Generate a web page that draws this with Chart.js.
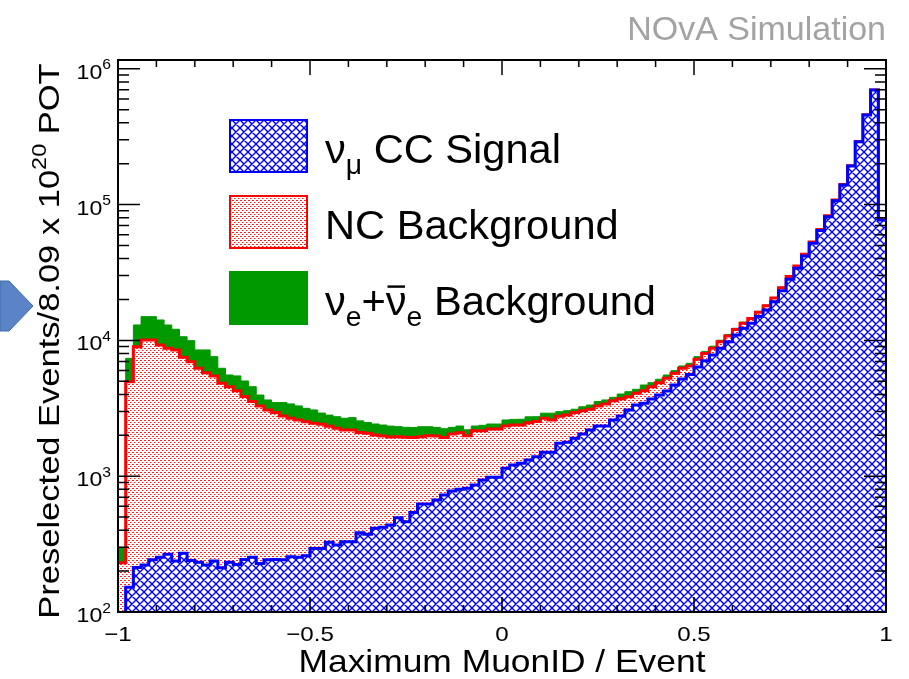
<!DOCTYPE html>
<html>
<head>
<meta charset="utf-8">
<title>Maximum MuonID / Event</title>
<script src="https://cdn.jsdelivr.net/npm/chart.js@4.4.1/dist/chart.umd.min.js"></script>
<style>
  html, body { margin: 0; padding: 0; background: #fff; }
  #wrap { width: 909px; height: 679px; }
</style>
</head>
<body>
<div id="wrap"><canvas id="muonIdChart" width="909" height="679"></canvas></div>
<script>
// 100 bins of width 0.02 between -1 and 1
const histLow = -1;
const binWidth = 0.02;

// numu CC signal per bin
const numuCC = [
  95, 152, 213, 222, 242, 253, 266, 237, 271, 239,
  232, 222, 237, 212, 232, 224, 244, 253, 228, 242,
  244, 242, 255, 253, 260, 294, 294, 326, 311, 329,
  329, 384, 373, 413, 420, 437, 495, 462, 540, 624,
  624, 668, 727, 778, 801, 815, 861, 938, 982, 982,
  1143, 1209, 1245, 1316, 1393, 1500, 1500, 1746, 1777, 1902,
  2046, 2190, 2343, 2343, 2595, 2776, 3072, 3343, 3441, 3701,
  3961, 4240, 4695, 5200, 5600, 6380, 7090, 7810, 8750, 9780,
  10960, 12270, 13360, 14960, 16760, 19290, 23200, 28200, 33960, 41800,
  51800, 64300, 81500, 106900, 139400, 192300, 290600, 457000, 698000, 77100
];

// NC background per bin
const ncBkg = [
  135, 4810, 8780, 9850, 9830, 9000, 8480, 8260, 7240, 6730,
  6000, 5560, 5230, 4620, 4330, 4040, 3610, 3290, 3060, 2830,
  2700, 2530, 2420, 2340, 2260, 2160, 2120, 2010, 1940, 1860,
  1860, 1710, 1700, 1600, 1560, 1510, 1460, 1470, 1390, 1330,
  1360, 1310, 1200, 1270, 1290, 1170, 1300, 1220, 1240, 1240,
  1200, 1170, 1140, 1160, 1130, 1170, 1090, 1020, 1040, 1040,
  990, 920, 950, 1060, 1000, 940, 780, 740, 820, 860,
  920, 1020, 1040, 1030, 880, 880, 900, 950, 1000, 1000,
  1050, 1100, 1100, 1150, 1200, 1200, 1250, 1300, 1300, 1300,
  1300, 1300, 1300, 1300, 1200, 1200, 1100, 1000, 900, 300
];

// nue + nuebar background per bin
const nueBkg = [
  66, 2410, 3990, 4880, 4880, 4880, 4230, 3570, 3130, 2980,
  2270, 2720, 2120, 1400, 1000, 1210, 1170, 1020, 670, 570,
  540, 710, 730, 700, 640, 620, 500, 480, 490, 480,
  510, 460, 410, 410, 400, 390, 360, 360, 350, 360,
  330, 310, 310, 240, 250, 210, 180, 210, 200, 200,
  250, 240, 240, 260, 220, 240, 320, 220, 220, 170,
  210, 230, 250, 240, 210, 310, 340, 280, 430, 320,
  290, 300, 250, 250, 300, 330, 300, 300, 280, 280,
  270, 260, 250, 250, 240, 230, 220, 210, 200, 190,
  180, 170, 160, 150, 140, 130, 120, 100, 80, 30
];

const xTickValues = [-1, -0.5, 0, 0.5, 1];
const xTickLabels = ['\u22121', '\u22120.5', '0', '0.5', '1'];
const yDecades = [2, 3, 4, 5, 6];

const FONT = '"Liberation Sans", Arial, Helvetica, sans-serif';

// stacked tops: signal, signal+NC, signal+NC+nue
const topSignal = numuCC.slice();
const topNC = numuCC.map((v, i) => v + ncBkg[i]);
const topAll = topNC.map((v, i) => v + nueBkg[i]);

// step outline: one point per left bin edge, plus the closing edge at x = 1
function toSteps(values) {
  const pts = values.map((v, i) => ({ x: histLow + i * binWidth, y: v }));
  pts.push({ x: histLow + values.length * binWidth, y: values[values.length - 1] });
  return pts;
}

function makeCrossHatch() {
  const c = document.createElement('canvas');
  c.width = 8; c.height = 8;
  const g = c.getContext('2d');
  g.fillStyle = '#fff';
  g.fillRect(0, 0, 8, 8);
  g.strokeStyle = '#0000ff';
  g.lineWidth = 1.4;
  g.beginPath();
  for (const o of [-8, 0, 8]) {
    g.moveTo(o, 0); g.lineTo(o + 8, 8);
    g.moveTo(o + 8, 0); g.lineTo(o, 8);
  }
  g.stroke();
  return g.createPattern(c, 'repeat');
}

function makeDots() {
  const c = document.createElement('canvas');
  c.width = 4; c.height = 4;
  const g = c.getContext('2d');
  g.fillStyle = '#fff';
  g.fillRect(0, 0, 4, 4);
  g.fillStyle = '#ff2020';
  g.fillRect(0, 0, 2, 1);
  g.fillRect(2, 2, 1, 1);
  g.fillStyle = '#ff9090';
  g.fillRect(3, 2, 1, 1);
  return g.createPattern(c, 'repeat');
}

const blueHatch = makeCrossHatch();
const redDots = makeDots();
const nueGreen = '#009900';

// text with optional sub/superscripts and over-bars, stretched horizontally by sx
function richText(ctx, parts, x, y, size, opts = {}) {
  const sx = opts.sx || 1;
  ctx.save();
  ctx.translate(x, y);
  if (opts.rotate) ctx.rotate(opts.rotate);
  ctx.scale(sx, 1);
  ctx.fillStyle = opts.color || '#000';
  ctx.textBaseline = 'alphabetic';
  ctx.textAlign = 'left';
  const fontOf = (p) => `${p.sub || p.sup ? size * 0.68 : size}px ${FONT}`;
  let total = 0;
  for (const p of parts) { ctx.font = fontOf(p); total += ctx.measureText(p.t).width; }
  let cx = opts.align === 'center' ? -total / 2 : opts.align === 'right' ? -total : 0;
  for (const p of parts) {
    ctx.font = fontOf(p);
    const w = ctx.measureText(p.t).width;
    const dy = p.sub ? size * 0.28 : p.sup ? -size * 0.45 : 0;
    ctx.fillText(p.t, cx, dy);
    if (p.bar) {
      ctx.fillRect(cx + w * 0.08, dy - size * 0.74, w * 0.84, size * 0.06);
    }
    cx += w;
  }
  ctx.restore();
}

const pageDecor = {
  id: 'pageDecor',
  beforeDraw(chart) {
    const { ctx } = chart;
    ctx.save();
    ctx.fillStyle = '#fff';
    ctx.fillRect(0, 0, chart.width, chart.height);
    // slide arrow at the left edge
    ctx.beginPath();
    ctx.moveTo(0, 281); ctx.lineTo(9, 281); ctx.lineTo(33, 306);
    ctx.lineTo(9, 331); ctx.lineTo(0, 331); ctx.closePath();
    ctx.fillStyle = '#5a84c6';
    ctx.fill();
    ctx.strokeStyle = '#3f6aa8';
    ctx.lineWidth = 1;
    ctx.stroke();
    ctx.restore();
  },
  afterDatasetsDraw(chart) {
    const { ctx, chartArea: a, scales: { x, y } } = chart;
    ctx.save();

    // frame
    ctx.strokeStyle = '#000';
    ctx.lineWidth = 2;
    ctx.strokeRect(a.left, a.top, a.right - a.left, a.bottom - a.top);

    // inward ticks on all four sides
    ctx.lineWidth = 1.5;
    ctx.beginPath();
    for (let k = 0; k <= 20; k++) {
      const px = x.getPixelForValue(histLow + k * 0.1);
      const len = k % 5 === 0 ? 15 : 7;
      ctx.moveTo(px, a.bottom); ctx.lineTo(px, a.bottom - len);
      ctx.moveTo(px, a.top); ctx.lineTo(px, a.top + len);
    }
    for (const d of yDecades) {
      for (let m = 1; m <= 9; m++) {
        const v = m * Math.pow(10, d);
        if (v < y.min || v > y.max) continue;
        const py = y.getPixelForValue(v);
        const len = m === 1 ? 22 : 11;
        ctx.moveTo(a.left, py); ctx.lineTo(a.left + len, py);
        ctx.moveTo(a.right, py); ctx.lineTo(a.right - len, py);
      }
    }
    ctx.stroke();

    // tick labels
    xTickValues.forEach((v, i) => {
      richText(ctx, [{ t: xTickLabels[i] }], x.getPixelForValue(v), a.bottom + 29, 21, { sx: 1.15, align: 'center' });
    });
    for (const d of yDecades) {
      const py = y.getPixelForValue(Math.pow(10, d));
      richText(ctx, [{ t: '10' }, { t: String(d), sup: true }], a.left - 7, py + 10, 21, { sx: 1.1, align: 'right' });
    }

    // axis titles
    richText(ctx, [{ t: 'Maximum MuonID / Event' }], x.getPixelForValue(0), 672, 30.5, { sx: 1.16, align: 'center' });
    richText(ctx, [{ t: 'Preselected Events/8.09 x 10' }, { t: '20', sup: true }, { t: ' POT' }],
      59, 341, 30, { sx: 1.15, align: 'center', rotate: -Math.PI / 2 });

    // legend
    const lx = 229, lw = 79, lh = 54;
    const rows = [
      { top: 119, fill: blueHatch, line: '#0000ff', parts: [{ t: '\u03bd' }, { t: '\u03bc', sub: true }, { t: ' CC Signal' }] },
      { top: 195, fill: redDots, line: '#ff0000', parts: [{ t: 'NC Background' }] },
      { top: 271, fill: nueGreen, line: nueGreen, parts: [{ t: '\u03bd' }, { t: 'e', sub: true }, { t: '+' }, { t: '\u03bd', bar: true }, { t: 'e', sub: true }, { t: ' Background' }] }
    ];
    for (const r of rows) {
      ctx.fillStyle = r.fill;
      ctx.fillRect(lx, r.top, lw, lh);
      ctx.strokeStyle = r.line;
      ctx.lineWidth = 2;
      ctx.strokeRect(lx + 1, r.top + 1, lw - 2, lh - 2);
      richText(ctx, r.parts, 325, r.top + 44, 40, { sx: 1.04 });
    }

    // label in the top right corner
    richText(ctx, [{ t: 'NOvA Simulation' }], 886, 40, 34, { align: 'right', color: '#a3a3a3' });
    ctx.restore();
  }
};

new Chart(document.getElementById('muonIdChart'), {
  type: 'line',
  data: {
    datasets: [
      {
        label: 'numu CC Signal',
        data: toSteps(topSignal),
        stepped: 'before',
        borderColor: '#0000ff',
        borderWidth: 3,
        backgroundColor: blueHatch,
        fill: 'start',
        pointRadius: 0,
        clip: 0
      },
      {
        label: 'NC Background',
        data: toSteps(topNC),
        stepped: 'before',
        borderColor: '#ff0000',
        borderWidth: 3,
        backgroundColor: redDots,
        fill: 0,
        pointRadius: 0,
        clip: 0
      },
      {
        label: 'nue + nuebar Background',
        data: toSteps(topAll),
        stepped: 'before',
        borderColor: nueGreen,
        borderWidth: 1,
        backgroundColor: nueGreen,
        fill: 1,
        pointRadius: 0,
        clip: 0
      }
    ]
  },
  options: {
    responsive: false,
    animation: false,
    events: [],
    layout: { padding: { top: 60, right: 23, left: 0, bottom: 0 } },
    plugins: { legend: { display: false }, tooltip: { enabled: false } },
    scales: {
      x: {
        type: 'linear',
        min: -1,
        max: 1,
        ticks: { display: false },
        grid: { display: false },
        border: { display: false },
        afterFit(scale) { scale.height = 67; }
      },
      y: {
        type: 'logarithmic',
        min: 100,
        max: 1.16e6,
        ticks: { display: false },
        grid: { display: false },
        border: { display: false },
        afterFit(scale) { scale.width = 118; }
      }
    }
  },
  plugins: [pageDecor]
});
</script>
</body>
</html>
